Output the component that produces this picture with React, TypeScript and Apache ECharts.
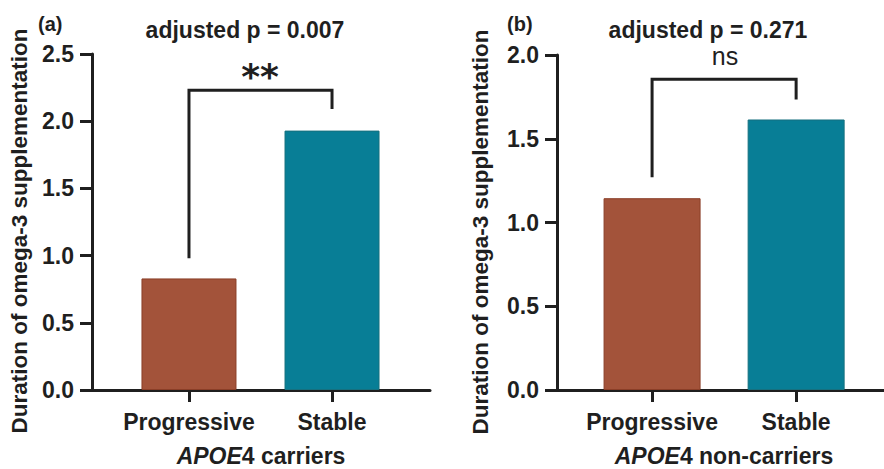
import React, { useEffect, useRef } from "react";
import * as echarts from "echarts";

const categories = ["Progressive", "Stable"];
const carriersValues = [0.83, 1.93];
const nonCarriersValues = [1.145, 1.615];
// bracket: [left leg bottom, bracket top, right leg bottom]
const carriersBracket = [0.98, 2.23, 2.09];
const nonCarriersBracket = [1.27, 1.855, 1.735];
const carriersYMax = 2.5;
const nonCarriersYMax = 2.0;
const yInterval = 0.5;
const titles = ["adjusted p = 0.007", "adjusted p = 0.271"];
const significance = ["**", "ns"];
const panelTags = ["(a)", "(b)"];
const groupNames = ["4 carriers", "4 non-carriers"];
const yName = "Duration of omega-3 supplementation";

const FONT = "'Liberation Sans', Arial, sans-serif";
const INK = "#1f1f1f";
const BROWN = "#A3533A";
const TEAL = "#087E96";

export default function App() {
  const ref = useRef<HTMLDivElement>(null);
  useEffect(() => {
    if (!ref.current) return;
    const chart = echarts.init(ref.current, undefined, { renderer: "svg" });

    const makeX = (gridIndex: number, min: number, max: number) => ({
      type: "value",
      gridIndex,
      min,
      max,
      splitLine: { show: false },
      axisLine: { show: true, lineStyle: { color: INK, width: 3 } },
      axisTick: { show: true, customValues: [1, 2], length: 12, lineStyle: { color: INK, width: 3 } },
      axisLabel: {
        customValues: [1, 2],
        formatter: (v: number) => categories[Math.round(v) - 1] ?? "",
        fontFamily: FONT,
        fontWeight: "bold",
        fontSize: 23,
        color: INK,
        margin: 20,
      },
    });
    const makeY = (gridIndex: number, max: number) => ({
      type: "value",
      gridIndex,
      min: 0,
      max,
      interval: yInterval,
      splitLine: { show: false },
      axisLine: { show: true, lineStyle: { color: INK, width: 3 } },
      axisTick: { show: true, length: 12, lineStyle: { color: INK, width: 3 } },
      axisLabel: {
        formatter: (v: number) => v.toFixed(1),
        fontFamily: FONT,
        fontWeight: "bold",
        fontSize: 23,
        color: INK,
        margin: 18,
      },
    });
    const bars = (vals: number[], idx: number, width: number) => ({
      type: "bar",
      xAxisIndex: idx,
      yAxisIndex: idx,
      barWidth: width,
      data: vals.map((v, i) => ({
        value: [i + 1, v],
        itemStyle: {
          color: i === 0 ? BROWN : TEAL,
          borderColor: i === 0 ? "#8A3E27" : "#16707F",
          borderWidth: 1,
        },
      })),
    });
    const bracket = (b: number[], idx: number) => ({
      type: "line",
      xAxisIndex: idx,
      yAxisIndex: idx,
      symbol: "none",
      silent: true,
      lineStyle: { color: INK, width: 3, join: "miter", cap: "butt" },
      data: [
        [1, b[0]],
        [1, b[1]],
        [2, b[1]],
        [2, b[2]],
      ],
    });

    const textStyle = (extra: any) => ({
      fontFamily: FONT,
      fill: INK,
      ...extra,
    });

    const richName = (rest: string) => ({
      text: `{i|APOE}{b|${rest}}`,
      rich: {
        i: { fontStyle: "italic", fontWeight: "bold", fontSize: 23, lineHeight: 22, fontFamily: FONT, fill: INK, color: INK },
        b: { fontWeight: "bold", fontSize: 23, lineHeight: 22, fontFamily: FONT, fill: INK, color: INK },
      },
      align: "center",
      verticalAlign: "middle",
    });

    chart.setOption({
      animation: false,
      grid: [
        { left: 92, top: 54, width: 338, bottom: 79 },
        { left: 557, top: 55, right: 0, bottom: 79 },
      ],
      xAxis: [makeX(0, 0.322, 2.685), makeX(1, 0.34, 2.61)],
      yAxis: [makeY(0, carriersYMax), makeY(1, nonCarriersYMax)],
      series: [
        bars(carriersValues, 0, 95),
        bars(nonCarriersValues, 1, 97),
        bracket(carriersBracket, 0),
        bracket(nonCarriersBracket, 1),
      ],
      graphic: [
        { type: "text", x: 38, y: 24, style: textStyle({ text: panelTags[0], fontSize: 20, fontWeight: "bold", align: "left", verticalAlign: "middle" }) },
        { type: "text", x: 507, y: 24, style: textStyle({ text: panelTags[1], fontSize: 20, fontWeight: "bold", align: "left", verticalAlign: "middle" }) },
        { type: "text", x: 245, y: 30, style: textStyle({ text: titles[0], fontSize: 23, fontWeight: "bold", lineHeight: 22, align: "center", verticalAlign: "middle" }) },
        { type: "text", x: 708, y: 30, style: textStyle({ text: titles[1], fontSize: 23, fontWeight: "bold", lineHeight: 22, align: "center", verticalAlign: "middle" }) },
        { type: "text", x: 260, y: 76, style: { text: significance[0], fontFamily: "'DejaVu Sans', sans-serif", fontSize: 36, fontWeight: "bold", fill: INK, align: "center", verticalAlign: "middle" } },
        { type: "text", x: 725, y: 56, style: textStyle({ text: significance[1], fontSize: 25, lineHeight: 20, fontWeight: "normal", align: "center", verticalAlign: "middle" }) },
        { type: "text", x: 19, y: 231, rotation: Math.PI / 2, style: textStyle({ text: yName, fontSize: 22.5, fontWeight: "bold", align: "center", verticalAlign: "middle" }) },
        { type: "text", x: 480, y: 232, rotation: Math.PI / 2, style: textStyle({ text: yName, fontSize: 22.5, fontWeight: "bold", align: "center", verticalAlign: "middle" }) },
        { type: "text", x: 261, y: 456, style: richName(groupNames[0]) },
        { type: "text", x: 724, y: 456, style: richName(groupNames[1]) },
      ],
    });
    return () => chart.dispose();
  }, []);
  return (
    <div
      ref={ref}
      style={{ position: "fixed", left: 0, top: 0, width: 884, height: 469, background: "#fff" }}
    />
  );
}
